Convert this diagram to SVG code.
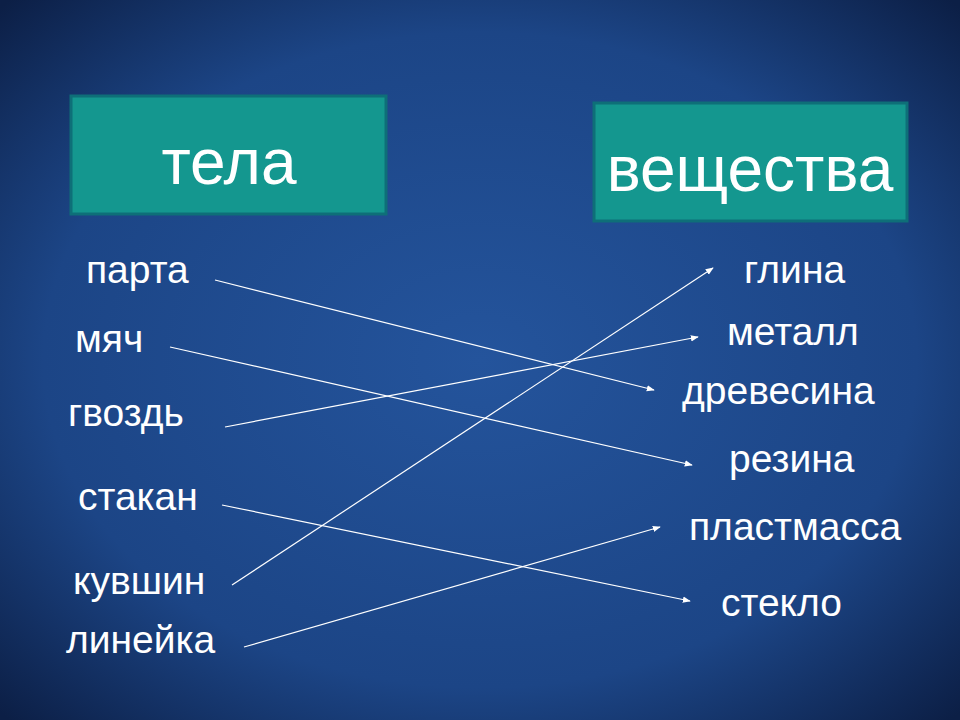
<svg xmlns="http://www.w3.org/2000/svg" width="960" height="720" viewBox="0 0 960 720">
<defs>
<radialGradient id="bg" cx="50%" cy="50%" r="70%">
<stop offset="0" stop-color="#24549c"/><stop offset="0.65" stop-color="#1c4586"/><stop offset="1" stop-color="#0c1f46"/>
</radialGradient>
<marker id="ah" viewBox="0 0 10 10" refX="9" refY="5" markerWidth="8" markerHeight="8" orient="auto" markerUnits="userSpaceOnUse"><path d="M0,1 L10,5 L0,9 z" fill="#fff"/></marker>
<style>
.box{fill:#14978f;stroke:#0e6f78;stroke-width:3}
.h{font-family:"Liberation Sans",Arial,sans-serif;font-size:64px;fill:#fff;text-anchor:middle}
.t{font-family:"Liberation Sans",Arial,sans-serif;font-size:39px;fill:#fff}
.c{stroke:#fff;stroke-width:1.2;fill:none;marker-end:url(#ah)}
</style>
</defs>
<rect width="960" height="720" fill="url(#bg)"/>
<g id="tela"><rect class="box" x="71" y="96" width="315" height="118"/><text class="h" x="229" y="184">тела</text></g>
<g id="veshchestva"><rect class="box" x="594" y="103" width="313" height="118"/><text class="h" x="750" y="191">вещества</text></g>
<g id="left">
<text class="t" x="86" y="283">парта</text>
<text class="t" x="75" y="352">мяч</text>
<text class="t" x="68" y="426">гвоздь</text>
<text class="t" x="78" y="510">стакан</text>
<text class="t" x="73" y="594">кувшин</text>
<text class="t" x="66" y="653">линейка</text>
</g>
<g id="right">
<text class="t" x="744" y="283">глина</text>
<text class="t" x="727" y="345">металл</text>
<text class="t" x="682" y="404">древесина</text>
<text class="t" x="729" y="472">резина</text>
<text class="t" x="689" y="540">пластмасса</text>
<text class="t" x="721" y="616">стекло</text>
</g>
<g id="connectors">
<line class="c" x1="215" y1="280" x2="654" y2="390"/>
<line class="c" x1="170" y1="347" x2="692" y2="465"/>
<line class="c" x1="225" y1="427" x2="698" y2="337"/>
<line class="c" x1="222" y1="505" x2="690" y2="601"/>
<line class="c" x1="232" y1="585" x2="713" y2="268"/>
<line class="c" x1="244" y1="647" x2="660" y2="527"/>
</g>
</svg>
